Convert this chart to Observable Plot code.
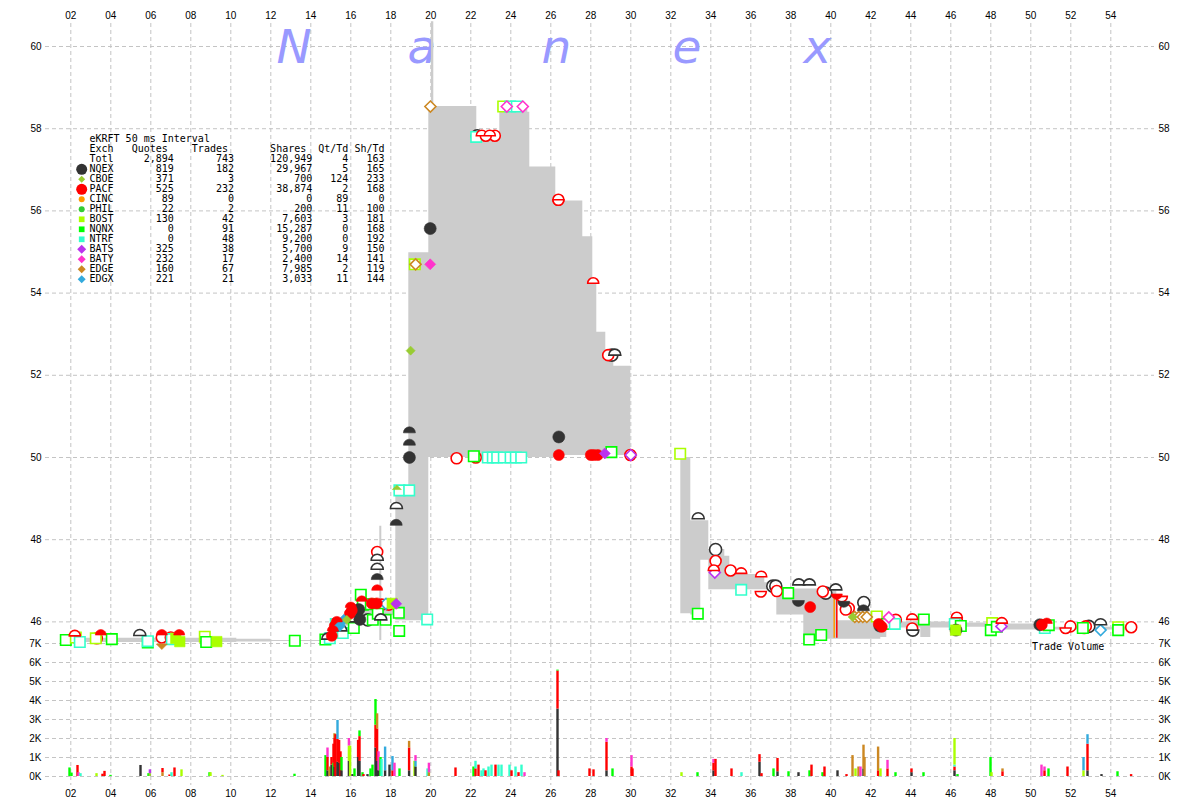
<!DOCTYPE html>
<html><head><meta charset="utf-8">
<script src="https://cdn.jsdelivr.net/npm/d3@7"></script>
<script src="https://cdn.jsdelivr.net/npm/@observablehq/plot@0.6"></script>
<style>
body{margin:0;background:#fff;}
#chart{position:relative;width:1200px;height:800px;overflow:hidden;background:#fff;}
#chart > svg, #chart > .layer{position:absolute;left:0;top:0;}
.mono{font-family:"DejaVu Sans Mono",monospace;font-size:10px;line-height:10px;white-space:pre;color:#000;position:absolute;}
</style></head><body><div id="chart"></div>
<script>
// ---------- exchanges ----------
const exchanges = ["NQEX","CBOE","PACF","CINC","PHIL","BOST","NQNX","NTRF","BATS","BATY","EDGE","EDGX"];
const exColors  = ["#333333","#99cc33","#ff0000","#ff9900","#33cc33","#aaff00","#00ff00","#33ffcc","#bb33ee","#ff33cc","#cc8822","#33aadd"];
const exShapes  = ["circle","diamond","circle","circle","circle","square","square","square","diamond","diamond","diamond","diamond"];
const exRadius  = [6,4.5,5.5,3.5,3.5,5.5,5.5,5.5,5.5,5.5,5.5,5.5];
const legendRadius = [5.5,3.5,5.5,3,3,3,3,3,4.5,4,4,4];

// ---------- legend statistics ----------
const legendTitle = "eKRFT 50 ms Interval";
const totals = ["Totl","2,894","743","120,949","4","163"];
const statQuotes = ["819","371","525","89","22","130","0","0","325","232","160","221"];
const statTrades = ["182","3","232","0","2","42","91","48","38","17","67","21"];
const statShares = ["29,967","700","38,874","0","200","7,603","15,287","9,200","5,700","2,400","7,985","3,033"];
const statQtTd   = ["5","124","2","89","11","3","0","0","9","14","2","11"];
const statShTd   = ["165","233","168","0","100","181","168","192","150","141","119","144"];

// ---------- ticks ----------
const timeTicks = [2,4,6,8,10,12,14,16,18,20,22,24,26,28,30,32,34,36,38,40,42,44,46,48,50,52,54];
const priceTicks = [46,48,50,52,54,56,58,60];
const volumeTicks = [0,1000,2000,3000,4000,5000,6000,7000];

// ---------- NBBO spread band: [time, bid, ask] ----------
const nbbo = [
 [1.8,45.50,45.60],[10.3,45.51,45.58],[12.0,45.52,45.55],[14.6,45.52,45.60],
 [15.0,45.60,45.75],[15.4,45.75,45.95],[15.8,45.90,46.10],[16.2,46.00,46.30],
 [16.6,46.05,46.45],[17.0,46.10,46.55],[17.45,45.55,48.33],[17.55,46.15,46.50],
 [18.25,46.03,49.22],[18.9,46.03,54.98],[19.9,50.00,58.54],[20.03,50.00,60.60],
 [20.15,50.00,58.54],[22.3,50.00,57.83],[23.45,50.00,58.54],[24.85,50.00,58.40],
 [24.95,50.00,57.07],[26.25,50.05,56.24],[27.6,50.05,55.37],[28.1,50.05,54.24],
 [28.3,50.05,53.05],[28.75,50.05,52.49],[29.15,50.05,52.22],[30.0,50.05,52.22],
 [30.0,null,null],
 [32.5,46.20,50.00],[33.0,46.17,48.46],[33.5,47.50,48.46],[33.9,46.78,47.76],
 [34.7,46.78,47.60],[34.95,46.78,47.15],[36.7,46.78,46.95],[37.3,46.17,46.80],
 [38.65,45.55,46.80],[39.55,45.58,46.75],[40.3,45.58,46.03],[42.5,45.62,46.10],
 [42.8,45.85,46.00],[44.5,45.62,46.00],[45.0,45.85,46.00],[46.0,45.87,45.97],
 [48.0,45.80,45.95],[50.5,45.80,45.87],[54.85,45.80,45.87],[54.85,null,null]
];

// ---------- quotes & trades: [time, price, exchange, kind] ----------
// kind: T trade (hollow), Q filled, A/a ask (top half filled/hollow), B/b bid (bottom half)
const quotes = [
 [1.75,45.56,"NQNX","T"],[2.2,45.66,"PACF","a"],[2.25,45.62,"BOST","T"],[2.45,45.51,"NTRF","T"],
 [3.25,45.6,"BOST","T"],[3.3,45.6,"PACF","T"],[3.5,45.68,"PACF","A"],[4.05,45.58,"NQNX","T"],
 [5.45,45.67,"NQEX","a"],[5.85,45.5,"NQNX","T"],[5.85,45.53,"NTRF","T"],
 [6.55,45.62,"PACF","T"],[6.55,45.68,"PACF","A"],[6.55,45.46,"EDGE","B"],
 [7.0,45.62,"PACF","T"],[7.05,45.58,"NTRF","T"],[7.25,45.6,"BOST","Q"],[7.42,45.68,"PACF","A"],
 [7.45,45.52,"BOST","Q"],[8.7,45.64,"BOST","T"],[8.77,45.51,"NQNX","T"],[9.3,45.52,"BOST","Q"],
 [13.2,45.54,"NQNX","T"],
 [14.73,45.57,"NQNX","T"],[14.85,45.58,"NQEX","a"],[14.95,45.6,"NTRF","T"],
 [15.05,45.66,"PACF","Q"],[15.1,45.78,"PACF","A"],[15.2,45.9,"PACF","Q"],[15.3,46.0,"PACF","A"],
 [15.25,45.95,"NTRF","T"],[15.45,45.9,"EDGX","Q"],[15.5,45.78,"NQEX","a"],[15.6,45.73,"NTRF","T"],
 [15.65,46.05,"EDGX","Q"],[15.8,46.05,"CBOE","Q"],[15.95,46.2,"PACF","Q"],[16.0,46.35,"PACF","A"],
 [16.05,46.28,"PACF","Q"],[16.15,45.85,"NQNX","T"],[16.1,46.0,"NQEX","a"],[16.4,46.3,"NQEX","Q"],
 [16.45,46.06,"NQEX","Q"],[16.5,46.66,"NQNX","T"],[16.6,46.42,"NQNX","T"],[16.55,46.5,"PACF","A"],
 [16.85,46.05,"NQEX","T"],[17.0,46.43,"NQNX","T"],[17.1,46.05,"NQNX","T"],[17.05,46.45,"PACF","Q"],
 [17.3,46.45,"PACF","Q"],[17.32,46.77,"PACF","A"],[17.32,47.03,"NQEX","A"],[17.32,47.28,"NQEX","a"],
 [17.32,47.5,"NQEX","a"],[17.32,47.7,"PACF","T"],[17.35,46.2,"NQNX","T"],[17.5,46.05,"NQEX","a"],
 [17.55,46.42,"PACF","T"],[17.74,46.05,"NQNX","T"],[17.76,46.44,"EDGX","T"],[17.9,46.42,"PACF","T"],
 [18.07,46.45,"BOST","Q"],[18.27,46.44,"BATS","Q"],[18.4,46.22,"NQNX","T"],[18.42,45.78,"NQNX","T"],
 [18.27,48.35,"NQEX","A"],[18.28,48.76,"NQEX","a"],[18.3,49.22,"CBOE","A"],[18.43,49.2,"NTRF","T"],
 [18.92,49.2,"NTRF","T"],[18.93,50.0,"NQEX","Q"],[18.93,50.3,"NQEX","A"],[18.93,50.6,"NQEX","A"],
 [18.99,52.6,"CBOE","Q"],[19.2,54.7,"BOST","T"],[19.24,54.7,"EDGE","T"],[19.82,46.06,"NTRF","T"],
 [19.97,55.57,"NQEX","Q"],[19.97,54.7,"BATY","Q"],[19.98,58.54,"EDGE","T"],
 [21.29,49.98,"PACF","T"],[22.15,50.03,"NQNX","T"],[22.25,50.0,"PACF","T"],
 [22.27,57.8,"NTRF","T"],[22.32,57.83,"NQEX","T"],[22.55,57.83,"PACF","a"],[22.75,57.83,"PACF","b"],
 [22.95,57.83,"PACF","a"],[23.2,57.83,"PACF","T"],
 [22.85,50.0,"NTRF","T"],[23.1,50.0,"NTRF","T"],[23.32,50.0,"NTRF","T"],[23.65,50.0,"NTRF","T"],
 [23.99,50.0,"NTRF","T"],[24.25,50.0,"NTRF","T"],[24.52,50.0,"NTRF","T"],
 [23.62,58.54,"BOST","T"],[23.8,58.54,"BATY","T"],[23.97,58.54,"NTRF","T"],[24.3,58.54,"NTRF","T"],
 [24.6,58.54,"BATY","T"],[26.38,56.27,"PACF","T"],[26.38,56.27,"PACF","b"],
 [26.4,50.5,"NQEX","Q"],[26.4,50.06,"PACF","Q"],[28.0,50.06,"PACF","Q"],[28.15,50.06,"PACF","Q"],
 [28.35,50.06,"PACF","Q"],[28.12,54.24,"PACF","a"],[28.7,50.1,"BATS","Q"],[29.03,50.13,"NQNX","T"],
 [28.87,52.49,"PACF","T"],[29.05,52.49,"NQEX","T"],[29.2,52.49,"NQEX","a"],
 [29.98,50.06,"PACF","T"],[30.0,50.06,"BATS","T"],
 [32.47,50.09,"BOST","T"],[33.37,48.51,"NQEX","a"],[33.35,46.2,"NQNX","T"],[34.24,47.76,"NQEX","T"],
 [34.24,47.48,"PACF","T"],[34.2,47.2,"BATS","T"],[34.15,47.25,"PACF","a"],[34.99,47.25,"PACF","T"],
 [35.52,47.18,"PACF","a"],[35.52,46.78,"NTRF","T"],[36.52,47.1,"PACF","a"],[36.5,46.74,"PACF","b"],
 [37.1,46.87,"NQEX","T"],[37.25,46.87,"NQEX","T"],[37.3,46.75,"PACF","T"],[37.87,46.7,"NQNX","T"],
 [38.4,46.9,"NQEX","a"],[38.93,46.9,"NQEX","a"],[38.38,46.52,"NQEX","B"],[38.97,46.36,"PACF","Q"],
 [38.92,45.57,"NQNX","T"],[39.52,45.68,"NQNX","T"],[39.6,46.74,"PACF","T"],[39.75,46.7,"NQEX","T"],
 [40.25,46.78,"NQEX","a"],[40.3,46.68,"PACF","B"],[40.65,46.5,"NQEX","B"],[40.55,46.62,"PACF","b"],
 [40.9,46.33,"PACF","T"],[40.75,46.3,"PACF","T"],[41.65,46.47,"NQEX","T"],[41.63,46.27,"NQEX","A"],
 [41.1,46.12,"CBOE","Q"],[41.2,46.12,"EDGE","T"],[41.4,46.12,"EDGE","T"],[41.6,46.12,"EDGE","T"],
 [41.8,46.12,"EDGE","T"],[42.3,46.13,"BOST","T"],
 [42.4,45.95,"PACF","Q"],[42.45,45.9,"NQEX","Q"],[42.55,45.88,"PACF","Q"],[42.9,46.11,"BATY","T"],
 [42.8,45.95,"NQNX","T"],[43.2,45.95,"NTRF","T"],[43.25,46.05,"PACF","T"],
 [44.07,46.06,"PACF","a"],[44.07,45.84,"PACF","T"],[44.1,45.8,"NQEX","b"],[44.65,46.06,"NQNX","T"],
 [46.24,45.8,"BOST","Q"],[46.26,45.8,"NQEX","Q"],[46.3,46.1,"PACF","a"],[46.3,46.04,"PACF","T"],
 [46.2,45.95,"NTRF","T"],[46.5,45.9,"NQNX","T"],[48.07,45.97,"BOST","T"],[48.0,45.8,"NQNX","T"],
 [48.3,45.88,"NQNX","T"],[48.53,45.89,"BATS","T"],[48.55,45.97,"PACF","a"],
 [50.45,45.93,"NQEX","Q"],[50.55,45.93,"PACF","Q"],[50.8,45.96,"PACF","A"],[50.8,45.9,"PACF","T"],
 [50.7,45.85,"NTRF","T"],[50.9,45.92,"NQNX","T"],[51.74,45.85,"PACF","b"],[51.98,45.89,"PACF","T"],
 [52.6,45.85,"NQNX","T"],[52.67,45.85,"PACF","T"],[52.75,45.89,"PACF","T"],[52.9,45.89,"NQEX","T"],
 [53.49,45.93,"NQEX","a"],[53.49,45.8,"EDGX","T"],[54.37,45.87,"BOST","T"],[54.37,45.8,"NQNX","T"],
 [55.02,45.87,"PACF","T"]
];

// ---------- thin trade-through lines: [time, low, high, exchange] ----------
const tradeLines = [[40.17,45.6,46.55,"CINC"],[40.3,45.6,46.6,"PACF"]];

// ---------- trade volume: [time, exchange, shares] (stacked per time) ----------
const volume = [
 [1.9,"NQNX",450],[2.0,"NQNX",180],[2.3,"PACF",580],[2.35,"BATY",200],[2.45,"NTRF",150],
 [3.25,"BOST",150],[3.55,"PACF",120],[3.65,"PACF",270],[3.95,"NQNX",60],
 [5.45,"NQEX",580],[5.85,"NQNX",150],[5.92,"CBOE",150],[5.92,"BATS",200],
 [6.55,"EDGE",200],[6.55,"PACF",220],[6.9,"PACF",80],[7.0,"NTRF",200],[7.15,"PACF",450],[7.5,"BOST",350],
 [8.9,"NQNX",200],[8.95,"BOST",200],[9.55,"BOST",60],[13.15,"NQNX",120],
 [14.7,"NQNX",1100],[14.8,"NQEX",300],[14.8,"PACF",700],[14.8,"BATY",500],[14.9,"EDGE",500],
 [15.0,"NQEX",600],[15.0,"PACF",400],[15.1,"NQNX",700],[15.1,"PACF",1000],
 [15.15,"NQEX",500],[15.15,"PACF",1500],[15.15,"EDGE",250],[15.2,"PACF",2200],
 [15.3,"NQEX",750],[15.3,"PACF",1200],[15.3,"EDGX",1000],[15.38,"NQEX",700],[15.38,"PACF",1200],
 [15.45,"PACF",1300],[15.5,"NQEX",300],[15.5,"NQNX",700],
 [15.87,"NQEX",800],[15.87,"BOST",800],[15.87,"BATY",400],[15.93,"BOST",1600],
 [16.05,"NQEX",100],[16.15,"NQNX",400],[16.33,"NQEX",1000],[16.33,"PACF",900],
 [16.4,"NQEX",800],[16.4,"PACF",1300],[16.4,"NQNX",300],
 [16.55,"NQNX",200],[16.6,"PACF",100],[16.8,"NQEX",100],[16.95,"NQNX",400],[17.05,"NQNX",600],
 [17.2,"NQEX",1500],[17.2,"PACF",1200],[17.2,"NQNX",1350],
 [17.28,"NQEX",800],[17.28,"PACF",1700],[17.28,"EDGE",800],
 [17.35,"NQEX",300],[17.35,"BATY",1000],[17.45,"NQNX",1000],[17.5,"NTRF",900],
 [17.68,"NQEX",300],[17.68,"EDGX",1250],[17.9,"NQEX",600],
 [18.05,"PACF",300],[18.05,"EDGX",750],[18.15,"BATY",700],[18.4,"NQNX",400],
 [18.88,"NQEX",300],[18.88,"PACF",1200],[18.88,"EDGE",350],[19.15,"BOST",800],
 [19.2,"NQEX",500],[19.2,"EDGX",300],[19.2,"BATY",300],[19.8,"NTRF",400],
 [19.87,"EDGE",200],[19.87,"BATY",500],
 [21.2,"PACF",450],[22.1,"NQNX",500],[22.2,"PACF",400],[22.2,"NTRF",400],[22.35,"PACF",600],
 [22.5,"NTRF",300],[22.6,"NTRF",400],[22.7,"PACF",300],[22.85,"NTRF",500],[23.0,"NTRF",600],
 [23.2,"PACF",600],[23.35,"NTRF",600],[23.5,"NTRF",600],[23.9,"NTRF",600],[24.0,"PACF",300],
 [24.2,"NTRF",500],[24.35,"PACF",200],[24.5,"NTRF",600],[24.65,"BATY",200],
 [26.3,"NQEX",3550],[26.3,"PACF",2000],[26.3,"NQNX",50],
 [26.35,"PACF",300],[27.9,"PACF",400],[28.1,"PACF",350],
 [28.75,"NQEX",300],[28.75,"PACF",1500],[28.75,"BATY",200],[29.05,"NQNX",400],
 [30.0,"PACF",500],[30.0,"BATY",600],[30.05,"PACF",400],
 [32.5,"BOST",200],[33.3,"NQNX",200],
 [34.1,"NQEX",300],[34.1,"PACF",400],[34.1,"BATY",200],[34.2,"PACF",900],
 [35.0,"PACF",400],[35.5,"NTRF",200],[36.4,"NQEX",750],[36.4,"PACF",400],[36.5,"PACF",150],
 [37.1,"NQNX",400],[37.3,"NQEX",250],[37.3,"PACF",700],[37.85,"NQNX",250],[38.35,"NQEX",200],
 [38.9,"NQNX",300],[39.0,"PACF",600],[39.55,"NQNX",200],[39.65,"PACF",500],[40.3,"NQEX",300],
 [40.75,"PACF",100],[41.05,"EDGE",1100],[41.2,"BOST",400],[41.35,"EDGE",500],[41.45,"BATY",500],
 [41.6,"NQEX",400],[41.6,"EDGE",1250],[41.65,"EDGE",1000],
 [42.33,"PACF",300],[42.33,"EDGE",1250],[42.45,"BOST",400],
 [42.8,"PACF",400],[42.8,"BATY",450],[43.2,"NQNX",200],
 [44.0,"NQEX",200],[44.0,"PACF",200],[44.6,"NQNX",200],
 [46.15,"NQEX",300],[46.15,"PACF",200],[46.15,"NTRF",100],[46.15,"BOST",1400],[46.3,"NQNX",100],
 [47.95,"NQNX",1000],[48.0,"BOST",200],[48.55,"PACF",250],[48.55,"EDGE",150],
 [50.5,"BATY",600],[50.65,"PACF",300],[50.65,"BATY",200],[50.85,"NQNX",400],[51.8,"PACF",500],
 [52.6,"BOST",300],[52.6,"EDGX",700],[52.8,"NQEX",300],[52.8,"PACF",1400],[52.8,"EDGX",500],
 [53.5,"NQEX",100],[54.3,"NQNX",250],[54.98,"PACF",100]
];

// ---------- build tables for the library ----------
const nbboRows = nbbo.map(([t, bid, ask]) => ({t, bid: bid ?? undefined, ask: ask ?? undefined}));
const quoteRows = quotes.map(([t, p, ex, kind]) => ({t, p, ex, kind}));
const volumeRows = volume.map(([t, ex, v]) => ({t, ex, v}));
const lineRows = tradeLines.map(([t, lo, hi, ex]) => ({t, lo, hi, ex}));
const shapeOf = Object.fromEntries(exchanges.map((e, i) => [e, exShapes[i]]));
const radiusOf = Object.fromEntries(exchanges.map((e, i) => [e, exRadius[i]]));

function shapeSymbol(shape, part) {
  return {draw(ctx, size) {
    const r = Math.sqrt(size / Math.PI);
    if (shape === "circle") {
      if (part === "full") { ctx.moveTo(r, 0); ctx.arc(0, 0, r, 0, 2 * Math.PI); }
      else if (part === "top") { ctx.moveTo(-r, 0); ctx.arc(0, 0, r, Math.PI, 2 * Math.PI); ctx.closePath(); }
      else { ctx.moveTo(r, 0); ctx.arc(0, 0, r, 0, Math.PI); ctx.closePath(); }
    } else if (shape === "square") {
      const h = r * 0.95;
      if (part === "full") ctx.rect(-h, -h, 2 * h, 2 * h);
      else if (part === "top") ctx.rect(-h, -h, 2 * h, h);
      else ctx.rect(-h, 0, 2 * h, h);
    } else {
      if (part === "full") { ctx.moveTo(0, -r); ctx.lineTo(r, 0); ctx.lineTo(0, r); ctx.lineTo(-r, 0); ctx.closePath(); }
      else if (part === "top") { ctx.moveTo(-r, 0); ctx.lineTo(0, -r); ctx.lineTo(r, 0); ctx.closePath(); }
      else { ctx.moveTo(-r, 0); ctx.lineTo(0, r); ctx.lineTo(r, 0); ctx.closePath(); }
    }
  }};
}

const kinds = {T: {part: "full", filled: false}, a: {part: "top", filled: false}, b: {part: "bottom", filled: false},
               Q: {part: "full", filled: true}, A: {part: "top", filled: true}, B: {part: "bottom", filled: true}};
const dotMarks = [];
for (const k of Object.keys(kinds)) for (const s of ["circle", "square", "diamond"]) {
  const rows = quoteRows.filter(d => d.kind === k && shapeOf[d.ex] === s);
  if (!rows.length) continue;
  dotMarks.push(Plot.dot(rows, {
    x: "t", y: "p", r: d => radiusOf[d.ex], symbol: shapeSymbol(s, kinds[k].part),
    fill: kinds[k].filled ? "ex" : "white", stroke: "ex", strokeWidth: kinds[k].filled ? 0.6 : 1.6
  }));
}

const xDomain = [0.735, 56.185];
const fmtTime = d => String(d).padStart(2, "0");
const gridStyle = {stroke: "#c4c4c4", strokeDasharray: "4,3", strokeWidth: 1};
const baseStyle = {fontFamily: "Liberation Sans, sans-serif", fontSize: "10px", color: "#000", overflow: "visible"};
const colorScale = {domain: exchanges, range: exColors};

const volumePlot = Plot.plot({
  width: 1200, height: 800, marginTop: 643, marginBottom: 15, marginLeft: 45, marginRight: 46,
  style: {...baseStyle, background: "white"},
  x: {domain: xDomain, ticks: timeTicks, tickFormat: fmtTime, tickSize: 0, tickPadding: 4, label: null, axis: "bottom"},
  y: {domain: [0, 7000], insetBottom: 9, ticks: volumeTicks, tickFormat: d => d / 1000 + "K", tickSize: 0, tickPadding: 4, label: null, axis: "both"},
  color: colorScale,
  marks: [
    Plot.ruleX(timeTicks, gridStyle),
    Plot.ruleY(volumeTicks, gridStyle),
    Plot.rectY(volumeRows, {x1: "t", x2: d => d.t + 0.12, y: "v", fill: "ex"})
  ]
});

const letters = [["N", 231], ["a", 362], ["n", 496], ["e", 627], ["x", 758]];
const pricePlot = Plot.plot({
  width: 1200, height: 800, marginTop: 23, marginBottom: 157, marginLeft: 45, marginRight: 46,
  style: {...baseStyle, background: "transparent"},
  x: {domain: xDomain, ticks: timeTicks, tickFormat: fmtTime, tickSize: 0, tickPadding: 5, label: null, axis: "top"},
  y: {domain: [45.474, 60.56], ticks: priceTicks, tickSize: 0, tickPadding: 4, label: null, axis: "both"},
  color: colorScale,
  r: {type: "identity"},
  marks: [
    Plot.ruleX(timeTicks, gridStyle),
    Plot.ruleY(priceTicks, gridStyle),
    ...letters.map(([ch, dx]) => Plot.text([ch], {
      frameAnchor: "top-left", dx, dy: 39, text: d => d, textAnchor: "start", lineAnchor: "bottom",
      fontSize: 47, fontStyle: "italic", fontFamily: "DejaVu Sans", fill: "#9999ff"
    })),
    Plot.areaY(nbboRows, {x: "t", y1: "bid", y2: "ask", curve: "step-after", fill: "#cccccc"}),
    Plot.ruleX(lineRows, {x: "t", y1: "lo", y2: "hi", stroke: "ex", strokeWidth: 1.5}),
    ...dotMarks
  ]
});

const chart = document.getElementById("chart");
chart.append(volumePlot, pricePlot);

// ---------- legend (inside plot area, top-left) ----------
const legendRows = [
  legendTitle,
  "Exch" + "Quotes".padStart(9) + "Trades".padStart(10) + "Shares".padStart(13) + "Qt/Td".padStart(7) + "Sh/Td".padStart(6),
  totals[0] + totals[1].padStart(10) + totals[2].padStart(10) + totals[3].padStart(13) + totals[4].padStart(6) + totals[5].padStart(6),
  ...exchanges.map((e, i) => e + statQuotes[i].padStart(10) + statTrades[i].padStart(10) + statShares[i].padStart(13) + statQtTd[i].padStart(6) + statShTd[i].padStart(6))
];
const rowTop = 134.3, rowStep = 10;
legendRows.forEach((txt, i) => {
  const div = document.createElement("div");
  div.className = "mono";
  div.style.left = "89.5px";
  div.style.top = (rowTop + i * rowStep) + "px";
  div.textContent = txt;
  chart.appendChild(div);
});
const legendSvg = d3.create("svg").attr("class", "layer").attr("width", 1200).attr("height", 800).style("pointer-events", "none");
exchanges.forEach((e, i) => {
  const r = legendRadius[i];
  legendSvg.append("path")
    .attr("transform", `translate(81.7,${rowTop + 5 + (i + 3) * rowStep})`)
    .attr("d", d3.symbol().type(shapeSymbol(exShapes[i], "full")).size(r * r * Math.PI)())
    .attr("fill", exColors[i]);
});
chart.appendChild(legendSvg.node());

const tv = document.createElement("div");
tv.className = "mono";
tv.style.left = "1032px";
tv.style.top = "642px";
tv.textContent = "Trade Volume";
chart.appendChild(tv);
</script></body></html>
